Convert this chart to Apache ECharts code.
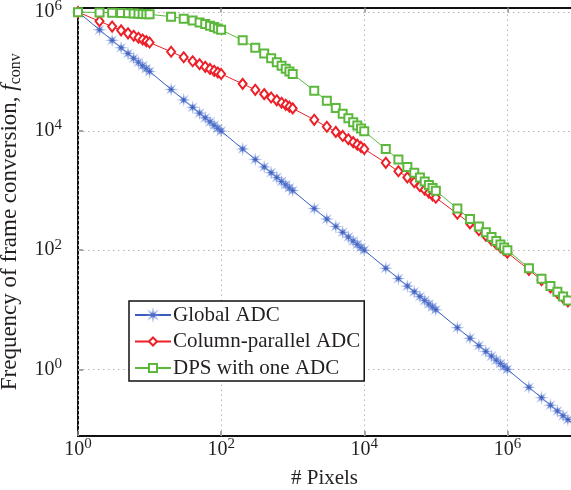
<!DOCTYPE html>
<html><head><meta charset="utf-8">
<script src="https://cdn.jsdelivr.net/npm/echarts@6/dist/echarts.min.js"></script>
<style>html,body{margin:0;padding:0;background:#fff}#c{width:571px;height:490px}</style>
</head><body><div id="c"></div>
<script>
// Number of pixels (x values)
const pixels = [1,2,3,4,5,6,7,8,9,
  10,20,30,40,50,60,70,80,90,
  100,200,300,400,500,600,700,800,900,
  1e3,2e3,3e3,4e3,5e3,6e3,7e3,8e3,9e3,
  1e4,2e4,3e4,4e4,5e4,6e4,7e4,8e4,9e4,
  1e5,2e5,3e5,4e5,5e5,6e5,7e5,8e5,9e5,
  1e6,2e6,3e6,4e6,5e6,6e6,7e6,8e6,9e6,
  1e7];
// Frequency of frame conversion for each architecture
const globalADC = [1000000,500000,333333,250000,200000,166667,142857,125000,111111,
  100000,50000,33333,25000,20000,16667,14286,12500,11111,
  10000,5000,3333,2500,2000,1667,1429,1250,1111,
  1000,500,333.3,250,200,166.7,142.9,125,111.1,
  100,50,33.33,25,20,16.67,14.29,12.5,11.11,
  10,5,3.333,2.5,2,1.667,1.429,1.25,1.111,
  1,0.5,0.3333,0.25,0.2,0.1667,0.1429,0.125,0.1111,
  0.1];
const columnADC = [990099,697250,567500,490196,437426,398486,368216,343831,323625,
  306532,214036,173094,148708,132081,119818,110295,102624,96276,
  90909,61950,49210,41667,36548,32792,29888,27560,25641,
  24025,15451,11796,9686,8284,7275,6508,5902,5409,
  5000,2929,2113,1667,1382,1183.5,1036.7,923.5,833.3,
  759.7,408.6,281.9,215.9,175.2,147.6,127.6,112.4,100.5,
  90.9,46.70,31.51,23.81,19.14,16.01,13.77,12.07,10.75,
  9.69];
const dpsADC = [990099,980392,970874,961538,952381,943396,934579,925926,917431,
  909091,833333,769231,714286,666667,625000,588235,555556,526316,
  500000,333333,250000,200000,166667,142857,125000,111111,100000,
  90909,47619,32258,24390,19608,16393,14085,12346,10989,
  9901,4975,3322,2494,1996,1664,1427,1248,1110,
  999,499.8,333.2,249.9,199.9,166.6,142.8,125.0,111.1,
  99.99,50.0,33.3,25.0,20.0,16.67,14.29,12.5,11.11,
  10.0];
const seriesNames = ['Global ADC', 'Column-parallel ADC', 'DPS with one ADC'];
const xTickExponents = [0, 2, 4, 6];
const yTickExponents = [0, 2, 4, 6];
const xName = '# Pixels';
const yNameMain = 'Frequency of frame conversion, ';
const yNameSym = 'f';
const yNameSub = 'conv';

const FONT = '"Liberation Serif", "DejaVu Serif", serif';
const TXT = '#231f20';
const GRID_STYLE = { color: '#b4b4b4', width: 1, type: [1.5, 3.5] };

// asterisk-like marker path
function starPath(nPts, rOut, rIn) {
  let d = '';
  for (let i = 0; i < nPts * 2; i++) {
    const r = i % 2 === 0 ? rOut : rIn;
    const a = Math.PI * i / nPts - Math.PI / 2;
    d += (i === 0 ? 'M' : 'L') + (r * Math.cos(a)).toFixed(3) + ' ' + (r * Math.sin(a)).toFixed(3) + ' ';
  }
  return 'path://' + d + 'Z';
}
const asterisk = starPath(8, 10, 4);

const toXY = ys => pixels.map((n, i) => [Math.log10(n), Math.log10(ys[i])]);

const supRich = {
  b: { fontFamily: FONT, fontSize: 20, color: TXT, lineHeight: 26 },
  s: { fontFamily: FONT, fontSize: 15, color: TXT, verticalAlign: 'top', lineHeight: 15 }
};
const supFmt = v => '{b|10}{s|' + Math.round(v) + '}';

const gridMarkLines = {
  silent: true, symbol: ['none', 'none'], z: 1,
  label: { show: false }, emphasis: { disabled: true },
  lineStyle: GRID_STYLE,
  data: yTickExponents.map(v => ({ yAxis: v, lineStyle: GRID_STYLE }))
    .concat(xTickExponents.map(v => ({ xAxis: v, lineStyle: GRID_STYLE })))
};

const axisCommon = {
  type: 'value',
  axisLine: { show: true, onZero: false, lineStyle: { color: '#111', width: 2 } },
  splitLine: { show: false }, minorTick: { show: false }, minorSplitLine: { show: false }
};

const chart = echarts.init(document.getElementById('c'), null, { renderer: 'canvas' });
chart.setOption({
  backgroundColor: '#fff',
  animation: false,
  grid: { left: 78, right: 0, top: 7.5, bottom: 54, containLabel: false, outerBoundsMode: 'none' },
  legend: {
    orient: 'vertical',
    left: 129, top: 301,
    data: seriesNames,
    backgroundColor: '#fff',
    borderColor: '#111', borderWidth: 1.5, borderRadius: 0,
    padding: [3, 4, 2, 5],
    itemWidth: 36, itemHeight: 10, itemGap: 4.5,
    textStyle: { fontFamily: FONT, fontSize: 21, color: TXT, lineHeight: 22, padding: [0, 0, 0, -3] }
  },
  xAxis: [Object.assign({}, axisCommon, {
    min: 0, max: 6.889, position: 'bottom',
    axisTick: { show: true, inside: true, length: 5, customValues: xTickExponents, lineStyle: { color: '#888', width: 1.5 } },
    axisLabel: { show: true, customValues: xTickExponents, margin: 1, formatter: supFmt, rich: supRich },
    name: xName, nameLocation: 'middle', nameGap: 32,
    nameTextStyle: { fontFamily: FONT, fontSize: 21, color: TXT }
  }), Object.assign({}, axisCommon, {
    min: 0, max: 6.889, position: 'top',
    axisTick: { show: true, inside: true, length: 5, customValues: xTickExponents, lineStyle: { color: '#888', width: 1.5 } },
    axisLabel: { show: false }
  })],
  yAxis: [Object.assign({}, axisCommon, {
    min: -1.119, max: 6.074, position: 'left',
    axisTick: { show: true, inside: true, length: 5, customValues: yTickExponents, lineStyle: { color: '#888', width: 1.5 } },
    axisLabel: { show: true, customValues: yTickExponents, margin: 16, formatter: supFmt, rich: supRich },
    name: '{n|' + yNameMain + '}{i|' + yNameSym + '}{sub|' + yNameSub + '}',
    nameLocation: 'middle', nameGap: 50, nameRotate: 90,
    nameTextStyle: {
      rich: {
        n: { fontFamily: FONT, fontSize: 23, color: TXT, lineHeight: 28 },
        i: { fontFamily: FONT, fontSize: 23, fontStyle: 'italic', color: TXT, lineHeight: 28 },
        sub: { fontFamily: FONT, fontSize: 16, color: TXT, verticalAlign: 'bottom', lineHeight: 16 }
      }
    }
  })],
  series: [{
    name: seriesNames[0], type: 'line', data: toXY(globalADC),
    symbol: asterisk, symbolSize: 8,
    lineStyle: { color: '#3a5cbf', width: 1 },
    itemStyle: { color: '#2c4eae', borderColor: 'rgba(110,140,220,0.5)', borderWidth: 1.5 },
    markLine: gridMarkLines,
    z: 3
  }, {
    name: seriesNames[1], type: 'line', data: toXY(columnADC),
    symbol: 'emptyDiamond', symbolSize: [8, 10],
    lineStyle: { color: '#ec2028', width: 1 },
    itemStyle: { color: '#ec2028', borderColor: '#ec2028', borderWidth: 1.2 },
    z: 4
  }, {
    name: seriesNames[2], type: 'line', data: toXY(dpsADC),
    symbol: 'emptyRect', symbolSize: 8,
    lineStyle: { color: '#5cb83c', width: 1 },
    itemStyle: { color: '#5cb83c', borderColor: '#5cb83c', borderWidth: 1.2 },
    z: 5
  }]
});
</script></body></html>
